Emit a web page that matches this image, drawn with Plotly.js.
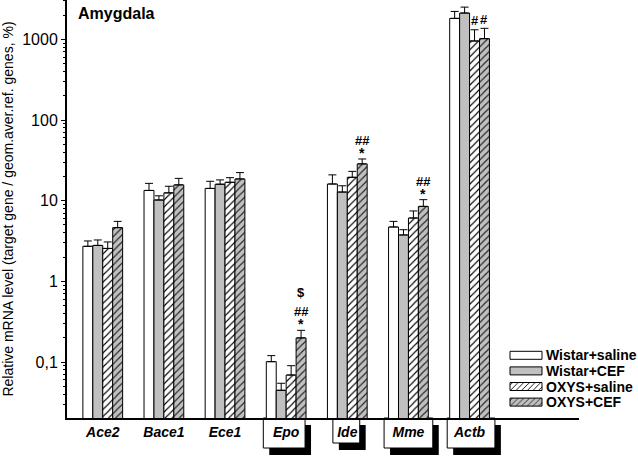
<!DOCTYPE html>
<html><head><meta charset="utf-8">
<script src="https://cdn.plot.ly/plotly-3.0.1.min.js"></script>
<style>html,body{margin:0;padding:0;background:#fff;} #chart{width:638px;height:457px;}</style>
</head><body><div id="chart"></div>
<script>
// ---- data ----
const genes = ['Ace2', 'Bace1', 'Ece1', 'Epo', 'Ide', 'Mme', 'Actb'];
const seriesNames = ['Wistar+saline', 'Wistar+CEF', 'OXYS+saline', 'OXYS+CEF'];
const wistarSaline    = [2.72, 13.4, 14.2, 0.101, 16.1, 4.72, 1820];
const wistarSalineErr = [0.45, 3.0, 3.2, 0.019, 4.8, 0.82, 400];
const wistarCEF       = [2.79, 10.2, 16.0, 0.0446, 12.8, 3.76, 2120];
const wistarCEFErr    = [0.47, 1.3, 2.1, 0.0099, 2.5, 0.61, 390];
const oxysSaline      = [2.56, 12.5, 16.9, 0.069, 19.5, 6.1, 955];
const oxysSalineErr   = [0.52, 2.6, 2.4, 0.021, 3.6, 1.36, 360];
const oxysCEF         = [4.63, 15.7, 18.6, 0.199, 28.6, 8.5, 1020];
const oxysCEFErr      = [0.91, 3.2, 3.7, 0.048, 4.3, 1.8, 350];
const yTickVals = [0.1, 1, 10, 100, 1000];
const yTickText = ['0,1', '1', '10', '100', '1000'];
// significance marks: gene, series index, text, stacking level
const sigGene   = ['Epo', 'Epo', 'Epo', 'Ide', 'Ide', 'Mme', 'Mme', 'Actb', 'Actb'];
const sigSeries = [3, 3, 3, 3, 3, 3, 3, 2, 3];
const sigText   = ['*', '##', '$', '*', '##', '*', '##', '#', '#'];
const sigLevel  = [0, 1, 2, 0, 1, 0, 1, 0, 0];
const boxedGenes = ['Epo', 'Ide', 'Mme', 'Actb'];

// ---- styles ----
const values = [wistarSaline, wistarCEF, oxysSaline, oxysCEF];
const errors = [wistarSalineErr, wistarCEFErr, oxysSalineErr, oxysCEFErr];
const GREY = '#c0c0c0';
const styles = [
  {color: '#ffffff', pattern: {shape: ''}},
  {color: GREY, pattern: {shape: ''}},
  {color: '#ffffff', pattern: {shape: '/', fgcolor: '#000000', bgcolor: '#ffffff', size: 5, solidity: 0.22, fillmode: 'replace'}},
  {color: GREY, pattern: {shape: '/', fgcolor: '#202020', bgcolor: GREY, size: 5, solidity: 0.22, fillmode: 'replace'}}
];
const FONT = 'Liberation Sans, Arial, sans-serif';
const X_RANGE = [-0.585, 7.79];
const PLOT_L = 67, PLOT_R = 56, PLOT_T = 0, PLOT_B = 39;
const W = 638, H = 457;
const plotW = W - PLOT_L - PLOT_R, plotH = H - PLOT_T - PLOT_B;
const pxPerCat = plotW / (X_RANGE[1] - X_RANGE[0]);
const GROUP_W = 0.65;
const barOffset = s => -GROUP_W / 2 + (s + 0.5) * GROUP_W / 4;
const paperY = px => (H - PLOT_B - px) / plotH;   // px measured from top of page
const boxStyle = {Epo: {w: 42, h: 30, dx: -2}, Ide: {w: 27, h: 25, dx: -1}, Mme: {w: 49, h: 30, dx: 0}, Actb: {w: 48, h: 30, dx: 1.5}};
const SHADOW = {dx: 6, dy: 7};
const levelShift = [9, 18.5, 37.5];

const data = values.map((v, s) => ({
  type: 'bar',
  name: seriesNames[s],
  x: genes,
  y: v,
  marker: {color: styles[s].color, line: {color: '#000000', width: 1}, pattern: styles[s].pattern},
  error_y: {type: 'data', symmetric: false, array: errors[s], arrayminus: genes.map(() => 0),
            color: '#000000', thickness: 1, width: 4},
  hoverinfo: 'skip'
}));

const annotations = sigGene.map((g, k) => {
  const gi = genes.indexOf(g), s = sigSeries[k];
  const top = values[s][gi] + errors[s][gi];
  return {
    xref: 'x', yref: 'y', x: gi + barOffset(s), y: Math.log10(top),
    text: '<b>' + sigText[k] + '</b>', showarrow: false,
    xanchor: 'center', yanchor: 'middle',
    yshift: levelShift[sigLevel[k]] - (sigText[k] === '*' ? 3 : 0),
    font: {family: FONT, size: sigText[k] === '*' ? 14 : 13, color: '#000'}
  };
});

const shapes = [];
boxedGenes.forEach(g => {
  const gi = genes.indexOf(g), b = boxStyle[g];
  const x0 = gi + (b.dx - b.w / 2) / pxPerCat, x1 = gi + (b.dx + b.w / 2) / pxPerCat;
  const axisPx = H - PLOT_B;
  shapes.push({type: 'rect', layer: 'below', xref: 'x', yref: 'paper',
    x0: x0 + SHADOW.dx / pxPerCat, x1: x1 + SHADOW.dx / pxPerCat,
    y0: paperY(axisPx + b.h + SHADOW.dy), y1: paperY(axisPx + SHADOW.dy),
    fillcolor: '#000000', line: {width: 0}});
  shapes.push({type: 'rect', layer: 'below', xref: 'x', yref: 'paper',
    x0: x0, x1: x1, y0: paperY(axisPx + b.h), y1: paperY(axisPx),
    fillcolor: '#ffffff', line: {color: '#000000', width: 1}});
});

const layout = {
  width: W, height: H,
  margin: {l: PLOT_L, r: PLOT_R, t: PLOT_T, b: PLOT_B, pad: 0},
  paper_bgcolor: '#ffffff', plot_bgcolor: 'rgba(0,0,0,0)',
  font: {family: FONT, color: '#000000'},
  barmode: 'group', bargap: 1 - GROUP_W, bargroupgap: 0,
  title: {text: 'Amygdala', font: {family: FONT, size: 16, weight: 'bold', color: '#000'},
          x: 78 / W, xanchor: 'left', xref: 'container', y: 1 - 13 / H, yanchor: 'middle', yref: 'container'},
  xaxis: {type: 'category', range: X_RANGE, showline: true, linewidth: 2, linecolor: '#000000',
          ticks: '', showgrid: false, zeroline: false, fixedrange: true,
          tickfont: {family: FONT, size: 14, weight: 'bold', style: 'italic', color: '#000'}},
  yaxis: {type: 'log', range: [-1.694, 3.488], showline: true, linewidth: 2, linecolor: '#000000',
          ticks: 'outside', ticklen: 4, tickwidth: 1, tickcolor: '#000000',
          tickmode: 'array', tickvals: yTickVals, ticktext: yTickText,
          tickfont: {family: FONT, size: 16, color: '#000'},
          minor: {dtick: 'D1', ticks: 'outside', ticklen: 2, tickwidth: 1, tickcolor: '#000000', showgrid: false},
          showgrid: false, zeroline: false, fixedrange: true,
          title: {text: 'Relative mRNA level (target gene / geom.aver.ref. genes, %)',
                  font: {family: FONT, size: 14, color: '#000'}, standoff: 5}},
  showlegend: true,
  legend: {x: 0.85, xanchor: 'left', y: 0.18, yanchor: 'top', bgcolor: 'rgba(0,0,0,0)', borderwidth: 0,
           font: {family: FONT, size: 14, weight: 'bold', color: '#000'}, itemwidth: 30, tracegroupgap: 0,
           traceorder: 'normal'},
  annotations: annotations,
  shapes: shapes
};

const LEG = {textLeft: 546, top: 355.3, step: 15.6, boxLeft: 510, boxRight: 542, h: 8};

function fixLegend(gd) {
  const root = gd.getBoundingClientRect();
  gd.querySelectorAll('.legend .scrollbox').forEach(el => el.removeAttribute('clip-path'));
  gd.querySelectorAll('.legend .traces').forEach((g, i) => {
    const txt = g.querySelector('text.legendtext');
    if (!txt) return;
    const r = txt.getBoundingClientRect();
    const wantY = LEG.top + i * LEG.step;
    const dx = LEG.textLeft - (r.left - root.left);
    const dy = wantY - ((r.top + r.bottom) / 2 - root.top);
    const tr = g.getAttribute('transform') || '';
    const m = tr.match(/translate\(\s*([-\d.e]+)[\s,]*([-\d.e]*)\s*\)/);
    const tx = m ? parseFloat(m[1]) : 0, ty = (m && m[2]) ? parseFloat(m[2]) : 0;
    g.setAttribute('transform', 'translate(' + (tx + dx) + ',' + (ty + dy) + ')');
    const p = g.querySelector('.legendpoints path');
    if (!p) return;
    const pr = p.getBoundingClientRect();
    const cx = (pr.left + pr.right) / 2 - root.left, cy = (pr.top + pr.bottom) / 2 - root.top;
    const x0 = LEG.boxLeft - cx, x1 = LEG.boxRight - cx, yc = wantY - cy;
    p.setAttribute('d', 'M' + x0 + ',' + (yc - LEG.h / 2) + 'H' + x1 + 'V' + (yc + LEG.h / 2) + 'H' + x0 + 'Z');
  });
}

Plotly.newPlot('chart', data, layout, {staticPlot: true, displayModeBar: false}).then(fixLegend);
</script>
</body></html>
